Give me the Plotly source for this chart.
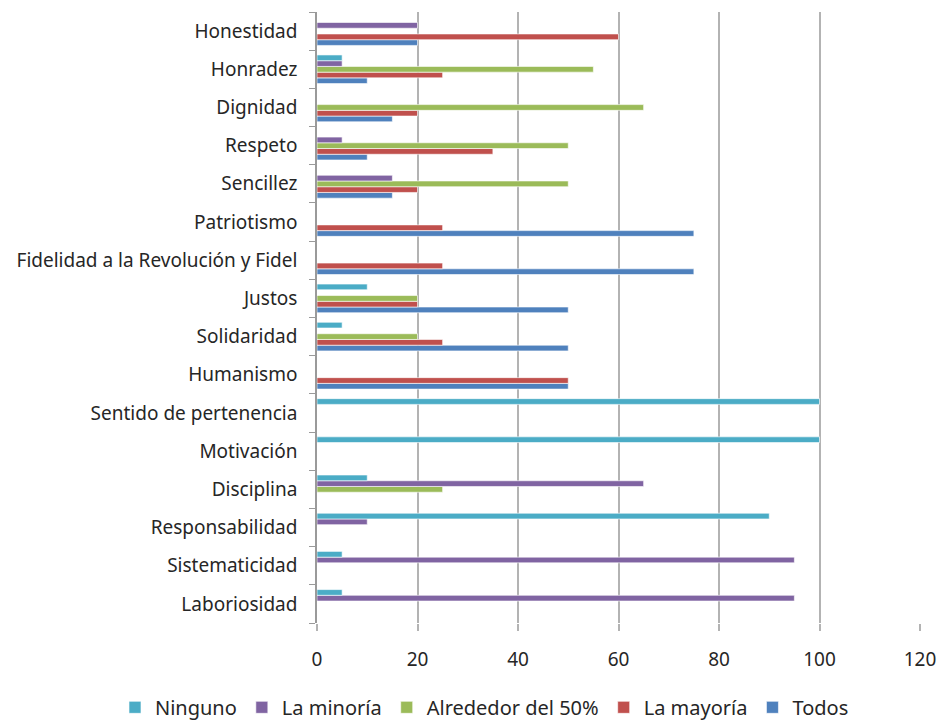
import plotly.graph_objects as go

# Values (categories listed bottom to top)
categories = [
    "Laboriosidad", "Sistematicidad", "Responsabilidad", "Disciplina",
    "Motivación", "Sentido de pertenencia", "Humanismo", "Solidaridad",
    "Justos", "Fidelidad a la Revolución y Fidel", "Patriotismo",
    "Sencillez", "Respeto", "Dignidad", "Honradez", "Honestidad",
]

todos       = [0, 0, 0, 0, 0, 0, 50, 50, 50, 75, 75, 15, 10, 15, 10, 20]
la_mayoria  = [0, 0, 0, 0, 0, 0, 50, 25, 20, 25, 25, 20, 35, 20, 25, 60]
alrededor50 = [0, 0, 0, 25, 0, 0, 0, 20, 20, 0, 0, 50, 50, 65, 55, 0]
la_minoria  = [95, 95, 10, 65, 0, 0, 0, 0, 0, 0, 0, 15, 5, 0, 5, 20]
ninguno     = [5, 5, 90, 10, 100, 100, 0, 5, 10, 0, 0, 0, 0, 0, 5, 0]

x_ticks = [0, 20, 40, 60, 80, 100, 120]

series = [
    ("Todos", todos, "#4F81BD"),
    ("La mayoría", la_mayoria, "#C0504D"),
    ("Alrededor del 50%", alrededor50, "#9BBB59"),
    ("La minoría", la_minoria, "#8064A2"),
    ("Ninguno", ninguno, "#4BACC6"),
]

fig = go.Figure()
for name, vals, color in series:
    fig.add_trace(go.Bar(
        y=categories, x=vals, name=name, orientation="h",
        marker=dict(color=color, line=dict(color="rgba(255,255,255,0.6)", width=1)),
    ))

font_family = "Noto Sans, Open Sans, sans-serif"

fig.update_layout(
    width=938, height=725,
    margin=dict(l=317, r=18, t=12, b=102, autoexpand=False),
    paper_bgcolor="white", plot_bgcolor="white",
    barmode="group", bargap=0.25, bargroupgap=0,
    font=dict(family=font_family, size=19, color="#262626"),
    legend=dict(
        orientation="h", traceorder="reversed",
        x=-0.335, xanchor="left", y=-0.138, yanchor="middle",
        font=dict(size=20), itemwidth=30, tracegroupgap=0,
    ),
    xaxis=dict(
        range=[0, 120], tickvals=x_ticks, showgrid=True,
        gridcolor="#B3B3B3", gridwidth=1.5,
        ticks="outside", ticklen=7, tickcolor="#B3B3B3", tickwidth=1.5,
        zeroline=False, showline=False,
        tickfont=dict(size=19), ticklabelstandoff=12,
    ),
    yaxis=dict(
        categoryorder="array", categoryarray=categories,
        range=[-0.5, len(categories) - 0.5],
        showline=True, linecolor="#9A9A9A", linewidth=1.5,
        ticks="outside", tickson="boundaries", ticklen=6, tickcolor="#9A9A9A",
        showgrid=False, ticklabelstandoff=14,
    ),
)

fig.write_html("out.html")
